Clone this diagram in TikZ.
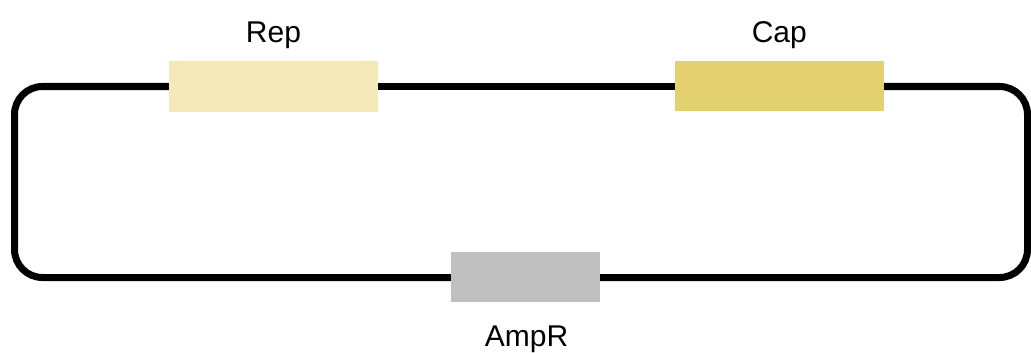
\documentclass[tikz,border=0pt]{standalone}
\usepackage{fontspec}
\setmainfont{Liberation Sans}
\definecolor{repcol}{RGB}{243,233,185}
\definecolor{capcol}{RGB}{227,208,111}
\definecolor{ampcol}{RGB}{192,192,192}
\tikzset{
  gene/.style={rectangle, draw=none, inner sep=0pt, minimum height=50.5pt},
  genelabel/.style={anchor=base, inner sep=0pt, font=\fontsize{30}{36}\selectfont},
  backbone/.style={line width=7pt, black, rounded corners=28pt}
}
\begin{document}
\begin{tikzpicture}[x=1pt, y=-1pt]
  \useasboundingbox (0,0) rectangle (1031,353);

  % corners of the plasmid backbone
  \coordinate (tl) at (14.5,86.5);
  \coordinate (tr) at (1027.5,86.5);
  \coordinate (br) at (1027.5,277.5);
  \coordinate (bl) at (14.5,277.5);

  % gene blocks
  \node[gene, fill=repcol, minimum width=208.7pt] (rep) at (273.3,86.4) {};
  \node[gene, fill=capcol, minimum width=209pt] (cap) at (779.5,86.1) {};
  \node[gene, fill=ampcol, minimum width=149pt, minimum height=50pt] (amp) at (525.5,277.3) {};

  % backbone segments between the gene blocks
  \draw[backbone] (rep.east |- tl) -- (cap.west |- tl);
  \draw[backbone] (cap.east |- tr) -- (tr) -- (br) -- (amp.east |- br);
  \draw[backbone] (amp.west |- bl) -- (bl) -- (tl) -- (rep.west |- tl);

  % labels
  \node[genelabel] (replabel) at (273.5,42.7) {Rep};
  \node[genelabel] (caplabel) at (779.3,42.7) {Cap};
  \node[genelabel] (amplabel) at (526.5,346.7) {AmpR};
\end{tikzpicture}
\end{document}
